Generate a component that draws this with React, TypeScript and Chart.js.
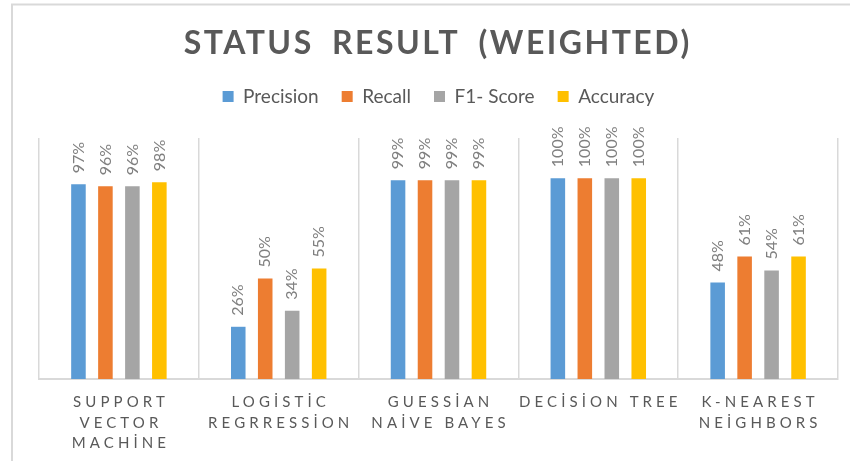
import React, { useEffect, useRef } from 'react';
import { Chart, registerables } from 'chart.js';

Chart.register(...registerables);

const categories: string[][] = [
  ['SUPPORT', 'VECTOR', 'MACHİNE'],
  ['LOGİSTİC', 'REGRRESSİON'],
  ['GUESSİAN', 'NAİVE BAYES'],
  ['DECİSİON TREE'],
  ['K-NEAREST', 'NEİGHBORS'],
];
const seriesNames = ['Precision', 'Recall', 'F1- Score', 'Accuracy'];
const precision = [97, 26, 99, 100, 48];
const recall = [96, 50, 99, 100, 61];
const f1Score = [96, 34, 99, 100, 54];
const accuracy = [98, 55, 99, 100, 61];
const seriesColors = ['#5B9BD5', '#ED7D31', '#A5A5A5', '#FFC000'];
const chartTitle = 'STATUS RESULT (WEIGHTED)';

const FONT = 'Lato, "Open Sans", sans-serif';

const framePlugin = {
  id: 'frame',
  beforeDraw(chart: any) {
    const ctx = chart.ctx;
    ctx.save();
    ctx.fillStyle = '#ffffff';
    ctx.fillRect(0, 0, chart.width, chart.height);
    ctx.strokeStyle = '#d9d9d9';
    ctx.lineWidth = 2;
    ctx.beginPath();
    ctx.moveTo(12, chart.height);
    ctx.lineTo(12, 4.5);
    ctx.lineTo(chart.width, 4.5);
    ctx.stroke();
    ctx.restore();
  },
};

const titlePlugin = {
  id: 'spacedTitle',
  afterDraw(chart: any) {
    const ctx = chart.ctx;
    const area = chart.chartArea;
    ctx.save();
    ctx.font = `bold 32px ${FONT}`;
    ctx.fillStyle = '#595959';
    ctx.textAlign = 'center';
    ctx.textBaseline = 'alphabetic';
    const ls = 2.5;
    (ctx as any).letterSpacing = `${ls}px`;
    (ctx as any).wordSpacing = '8px';
    ctx.fillText(chartTitle, (area.left + area.right) / 2 + ls / 2 - 2, 54);
    ctx.restore();
  },
};

const legendSpacer = {
  id: 'legendSpacer',
  beforeInit(chart: any) {
    const legend = chart.legend;
    if (!legend) return;
    const orig = legend.fit;
    legend.fit = function () {
      orig.call(this);
      this.height += 22;
    };
  },
};

const xLabelPlugin = {
  id: 'xLabels',
  afterDraw(chart: any) {
    const ctx = chart.ctx;
    const xScale = chart.scales.x;
    const area = chart.chartArea;
    ctx.save();
    ctx.font = `15px ${FONT}`;
    ctx.fillStyle = '#595959';
    ctx.textAlign = 'center';
    ctx.textBaseline = 'alphabetic';
    const ls = 4.1;
    (ctx as any).letterSpacing = `${ls}px`;
    categories.forEach((lines, i) => {
      const x = xScale.getPixelForValue(i);
      lines.forEach((line, k) => {
        ctx.fillText(line, x + ls / 2, area.bottom + 28 + k * 20.5);
      });
    });
    ctx.restore();
  },
};

const dataLabelPlugin = {
  id: 'dataLabels',
  afterDatasetsDraw(chart: any) {
    const ctx = chart.ctx;
    ctx.save();
    ctx.font = `16px ${FONT}`;
    ctx.fillStyle = '#7f7f7f';
    ctx.textAlign = 'left';
    ctx.textBaseline = 'middle';
    chart.data.datasets.forEach((ds: any, di: number) => {
      const meta = chart.getDatasetMeta(di);
      meta.data.forEach((el: any, i: number) => {
        ctx.save();
        ctx.translate(el.x, el.y - 11);
        ctx.rotate(-Math.PI / 2);
        ctx.fillText(`${ds.data[i]}%`, 0, 0);
        ctx.restore();
      });
    });
    ctx.restore();
  },
};

export default function App() {
  const ref = useRef<HTMLCanvasElement | null>(null);
  useEffect(() => {
    if (!ref.current) return;
    const seriesValues = [precision, recall, f1Score, accuracy];
    const chart = new Chart(ref.current, {
      type: 'bar',
      data: {
        labels: categories,
        datasets: seriesNames.map((name, i) => ({
          label: name,
          data: seriesValues[i],
          backgroundColor: seriesColors[i],
          borderWidth: 0,
          categoryPercentage: 0.675,
          barPercentage: 0.54,
        })),
      },
      options: {
        animation: false,
        responsive: false,
        maintainAspectRatio: false,
        layout: { padding: { left: 39, right: 12, top: 64, bottom: 82 } },
        plugins: {
          title: { display: false },
          tooltip: { enabled: false },
          legend: {
            display: true,
            position: 'top',
            labels: {
              boxWidth: 11,
              boxHeight: 11,
              padding: 23,
              color: '#595959',
              font: { family: FONT, size: 19 },
            },
          },
        },
        scales: {
          x: {
            grid: {
              display: true,
              offset: true,
              color: '#d9d9d9',
              lineWidth: 1.5,
              drawTicks: false,
            },
            border: { display: true, color: '#d9d9d9', width: 2 },
            ticks: { display: false },
          },
          y: {
            display: false,
            min: 0,
            max: 120,
          },
        },
      },
      plugins: [legendSpacer, framePlugin, titlePlugin, xLabelPlugin, dataLabelPlugin],
    });
    return () => chart.destroy();
  }, []);
  return (
    <div style={{ position: 'fixed', left: 0, top: 0, width: 850, height: 461, background: '#fff' }}>
      <canvas ref={ref} width={850} height={461} style={{ display: 'block' }} />
    </div>
  );
}
